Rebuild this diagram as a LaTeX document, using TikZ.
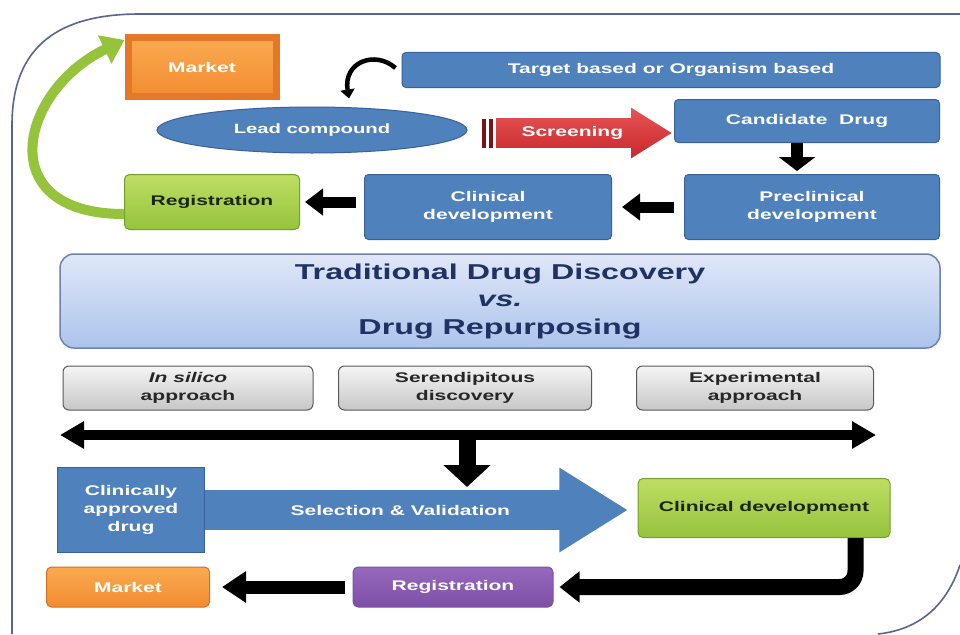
\documentclass[tikz,border=0pt]{standalone}
\usepackage{fontspec}
\setmainfont{Liberation Sans}[FakeStretch=1.5]
\usepackage{tikz}
\usetikzlibrary{shapes.geometric, shapes.arrows, arrows.meta, positioning, calc}
\definecolor{myblue}{RGB}{79,129,189}
\definecolor{mybluedk}{RGB}{56,98,155}
\definecolor{myorange}{RGB}{242,140,50}
\definecolor{myorangelt}{RGB}{250,170,80}
\definecolor{myorangedk}{RGB}{215,110,35}
\definecolor{mybevel}{RGB}{228,120,40}
\definecolor{mygreen}{RGB}{150,195,60}
\definecolor{mygreenlt}{RGB}{190,222,100}
\definecolor{mygreendk}{RGB}{115,160,45}
\definecolor{mypurple}{RGB}{125,80,165}
\definecolor{mypurplelt}{RGB}{150,105,190}
\definecolor{myred}{RGB}{200,40,45}
\definecolor{myredlt}{RGB}{230,85,85}
\definecolor{myreddk}{RGB}{120,20,25}
\definecolor{mynavy}{RGB}{30,50,100}
\definecolor{myframe}{RGB}{90,100,145}
\definecolor{hdrtop}{RGB}{224,231,248}
\definecolor{hdrbot}{RGB}{172,196,235}
\definecolor{hdrline}{RGB}{110,130,175}
\definecolor{mytext}{RGB}{25,40,20}
\tikzset{
  bluebox/.style={rectangle, draw=mybluedk, fill=myblue, text=white,
    align=center, inner sep=0pt, rounded corners=4pt, line width=1pt,
    font=\fontsize{14}{18}\selectfont\bfseries},
  greenbox/.style={rectangle, draw=mygreendk, top color=mygreenlt, bottom color=mygreen,
    text=mytext, align=center, inner sep=0pt, rounded corners=5pt, line width=1pt,
    font=\fontsize{14}{18}\selectfont\bfseries},
  orangebox/.style={rectangle, draw=myorangedk, top color=myorangelt, bottom color=myorange,
    text=white, align=center, inner sep=0pt, rounded corners=5pt, line width=1pt,
    font=\fontsize{14}{18}\selectfont\bfseries},
  purplebox/.style={rectangle, draw=mypurple, top color=mypurplelt, bottom color=mypurple,
    text=white, align=center, inner sep=0pt, rounded corners=5pt, line width=1pt,
    font=\fontsize{14}{18}\selectfont\bfseries},
  graybox/.style={rectangle, draw=black!65, top color=white!96!black, bottom color=black!22,
    text=black!85, align=center, inner sep=0pt, rounded corners=6pt, line width=1pt,
    font=\fontsize{14}{18}\selectfont\bfseries},
  blkarrow/.style={line width=11pt, -{Triangle[length=18pt, width=26pt]}, color=black},
  greenarr/.style={line width=10pt, -{Triangle[length=22pt, width=30pt]}, color=mygreen},
  curvearr/.style={line width=4.5pt, -{Triangle[length=9pt, width=14pt]}, color=black}
}
\begin{document}
\begin{tikzpicture}[x=1pt, y=-1pt,
  blockarrow/.style={single arrow, single arrow tip angle=64, inner xsep=0pt,
    text=white, font=\fontsize{14}{18}\selectfont\bfseries}
]
  \useasboundingbox (0,0) rectangle (960,634);
  \fill[white] (0,0) rectangle (960,634);
  \draw[myframe, line width=1.6pt] (12,634) -- (12,125) .. controls (12,45) and (60,14) .. (140,14) -- (960,14);
  \draw[myframe, line width=1.6pt] (960,565) .. controls (945,610) and (915,630) .. (878,634);

  % traditional drug discovery
  \node[orangebox, draw=mybevel, line width=7pt, rounded corners=0pt,
    minimum width=148pt, minimum height=58pt] (mktA) at (202,67) {Market};
  \node[bluebox, minimum width=538pt, minimum height=35pt] (tgt) at (671,70) {Target based or Organism based};
  \node[ellipse, draw=mybluedk, fill=myblue, text=white, inner sep=0pt, line width=1pt,
    minimum width=310pt, minimum height=46pt, font=\fontsize{13.5}{18}\selectfont\bfseries] (lead) at (312,130) {Lead compound};
  \node[blockarrow, top color=myredlt, bottom color=myred, minimum height=175pt, inner ysep=8pt,
    single arrow head extend=10.5pt, anchor=tip] (scr) at (672,133) {Screening};
  \fill[myreddk] ($(scr.tail)+(-14,-14.5)$) rectangle +(4,29);
  \fill[myreddk] ($(scr.tail)+(-7,-14.5)$) rectangle +(4,29);
  \node[bluebox, minimum width=265pt, minimum height=43pt] (cand) at (807,121) {Candidate~ Drug};
  \node[bluebox, minimum width=255pt, minimum height=65pt] (precl) at (812,207) {Preclinical\\development};
  \node[bluebox, minimum width=247pt, minimum height=65pt] (clinA) at (488,207) {Clinical\\development};
  \node[greenbox, minimum width=175pt, minimum height=55pt] (regA) at (212,202) {Registration};

  \draw[curvearr] ($(tgt.west)+(-6,-2)$) .. controls (375,50) and (343,62) .. ($(lead.north)+(37,-8)$);
  \draw[blkarrow, line width=12pt, -{Triangle[length=14pt, width=36pt]}]
    ($(cand.south)+(-10,0)$) -- ($(cand.south |- precl.north)+(-10,-3)$);
  \draw[blkarrow, shorten <=10pt, shorten >=10pt] (precl.west) -- (clinA.east);
  \draw[blkarrow, shorten <=8pt, shorten >=5pt] (clinA.west |- regA.east) -- (regA.east);
  \draw[greenarr] ($(regA.west)+(0,12)$) .. controls (-10,214) and (20,90) .. ($(mktA.west)+(0,-27)$);

  % header
  \node[rectangle, draw=hdrline, top color=hdrtop, bottom color=hdrbot, line width=1.5pt,
    rounded corners=14pt, minimum width=880pt, minimum height=94pt, inner sep=0pt,
    align=center, text=mynavy, font=\fontsize{21.5}{27.5}\selectfont\bfseries] (title) at (500,301)
    {Traditional Drug Discovery\\\textit{vs.}\\Drug Repurposing};

  % drug repurposing
  \node[graybox, minimum width=250pt, minimum height=44pt] (silico) at (188,388) {\textit{In silico}\\approach};
  \node[graybox, minimum width=253pt, minimum height=44pt] (seren) at (465,388) {Serendipitous\\discovery};
  \node[graybox, minimum width=237pt, minimum height=44pt] (exper) at (755,388) {Experimental\\approach};

  \coordinate (dl) at (60,435);
  \coordinate (dr) at (876,435);
  \coordinate (mid) at (467,435);
  \draw[line width=10pt, {Triangle[length=24pt, width=26pt]}-{Triangle[length=24pt, width=26pt]}] (dl) -- (dr);

  \node[bluebox, rounded corners=0pt, minimum width=147pt, minimum height=85pt] (appr) at (131,510)
    {Clinically\\approved\\drug};
  \node[blockarrow, fill=myblue, minimum height=422pt, inner ysep=14.5pt,
    single arrow head extend=22.5pt, anchor=tail] (selval) at (appr.east) {Selection \& Validation};
  \draw[blkarrow, line width=17pt, -{Triangle[length=22pt, width=46pt]}] (mid) -- ($(mid)+(0,52)$);
  \node[greenbox, minimum width=252pt, minimum height=59pt] (clinB) at (764,508) {Clinical development};
  \node[purplebox, minimum width=200pt, minimum height=40pt] (regB) at (453,587) {Registration};
  \node[orangebox, minimum width=163pt, minimum height=40pt] (mktB) at (128,587) {Market};

  \draw[blkarrow, line width=16pt, rounded corners=16pt, -{Triangle[length=20pt, width=30pt]}, shorten >=6pt]
    ($(clinB.south east)+(-35,0)$) |- (regB.east);
  \draw[blkarrow, line width=13pt, -{Triangle[length=24pt, width=30pt]}] ($(regB.west)+(-8,0)$) -- ($(mktB.east)+(12,0)$);
\end{tikzpicture}
\end{document}
